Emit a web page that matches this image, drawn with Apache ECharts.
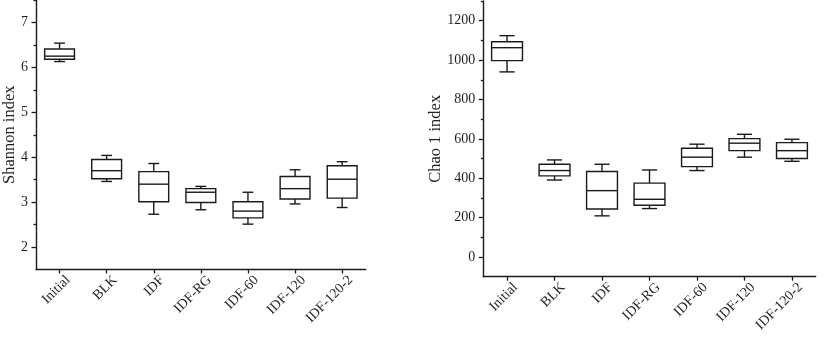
<!DOCTYPE html>
<html>
<head>
<meta charset="utf-8">
<script src="https://cdn.jsdelivr.net/npm/echarts@6/dist/echarts.min.js"></script>
<style>
html,body{margin:0;padding:0;background:#fff;}
#main{width:837px;height:358px;}
</style>
</head>
<body>
<div id="main"></div>
<script>
var categories = ['Initial', 'BLK', 'IDF', 'IDF-RG', 'IDF-60', 'IDF-120', 'IDF-120-2'];

var shannonMin = [6.13, 3.46, 2.73, 2.83, 2.51, 2.96, 2.88];
var shannonQ1  = [6.18, 3.52, 3.01, 2.99, 2.65, 3.07, 3.09];
var shannonMed = [6.25, 3.70, 3.40, 3.22, 2.80, 3.30, 3.51];
var shannonQ3  = [6.41, 3.95, 3.68, 3.30, 3.01, 3.57, 3.81];
var shannonMax = [6.54, 4.04, 3.86, 3.35, 3.22, 3.72, 3.90];

var chaoMin = [940, 391, 209, 246, 439, 507, 486];
var chaoQ1  = [997, 412, 244, 263, 459, 540, 500];
var chaoMed = [1063, 439, 337, 293, 507, 578, 540];
var chaoQ3  = [1093, 471, 434, 375, 552, 601, 581];
var chaoMax = [1124, 493, 471, 442, 573, 623, 598];

var shannonMajorTicks = [2, 3, 4, 5, 6, 7];
var shannonMinorTicks = [2.5, 3.5, 4.5, 5.5, 6.5, 7.5];
var chaoMajorTicks = [0, 200, 400, 600, 800, 1000, 1200];
var chaoMinorTicks = [100, 300, 500, 700, 900, 1100, 1300];

var FONT = "'Liberation Serif', 'Times New Roman', serif";
var INK = '#1a1a1a';
var TXT = '#1f1f1f';

function rows(mn, q1, md, q3, mx) {
  return categories.map(function (c, i) { return [i, mn[i], q1[i], md[i], q3[i], mx[i]]; });
}

function makeRender(boxRatio, capRatio) {
  return function (params, api) {
    var i = api.value(0);
    var pMin = api.coord([i, api.value(1)]);
    var pQ1 = api.coord([i, api.value(2)]);
    var pMed = api.coord([i, api.value(3)]);
    var pQ3 = api.coord([i, api.value(4)]);
    var pMax = api.coord([i, api.value(5)]);
    var band = api.size([1, 0])[0];
    var bw = band * boxRatio;
    var cw = band * capRatio;
    var cx = pMed[0];
    var st = { stroke: INK, fill: null, lineWidth: 1.4 };
    return {
      type: 'group',
      children: [
        { type: 'line', shape: { x1: cx, y1: pQ3[1], x2: cx, y2: pMax[1] }, style: st },
        { type: 'line', shape: { x1: cx, y1: pQ1[1], x2: cx, y2: pMin[1] }, style: st },
        { type: 'line', shape: { x1: cx - cw / 2, y1: pMax[1], x2: cx + cw / 2, y2: pMax[1] }, style: st },
        { type: 'line', shape: { x1: cx - cw / 2, y1: pMin[1], x2: cx + cw / 2, y2: pMin[1] }, style: st },
        { type: 'rect', shape: { x: cx - bw / 2, y: pQ3[1], width: bw, height: pQ1[1] - pQ3[1] }, style: { stroke: INK, fill: '#fff', lineWidth: 1.4 } },
        { type: 'line', shape: { x1: cx - bw / 2, y1: pMed[1], x2: cx + bw / 2, y2: pMed[1] }, style: st }
      ]
    };
  };
}

function xAxisDef(gi) {
  return {
    type: 'category', gridIndex: gi, data: categories, boundaryGap: true, position: 'bottom',
    axisLine: { show: true, onZero: false, lineStyle: { color: INK, width: 1.4 } },
    axisTick: { show: true, alignWithLabel: true, length: 4, inside: false, lineStyle: { color: INK, width: 1.3 } },
    axisLabel: {
      rotate: 45, margin: 0, fontSize: 14, fontFamily: FONT, color: TXT,
      verticalAlign: 'top', padding: [5, 0, 0, 0], interval: 0
    },
    splitLine: { show: false }
  };
}

function yMajor(gi, min, max, ticks, name, gap) {
  return {
    type: 'value', gridIndex: gi, min: min, max: max, position: 'left',
    name: name, nameLocation: 'middle', nameGap: gap, nameMoveOverlap: false,
    nameTextStyle: { fontSize: 16.5, fontFamily: FONT, color: TXT },
    axisLine: { show: true, onZero: false, lineStyle: { color: INK, width: 1.4 } },
    axisTick: { show: true, length: 4.5, customValues: ticks, lineStyle: { color: INK, width: 1.3 } },
    axisLabel: {
      show: true, customValues: ticks, margin: 8, fontSize: 14, fontFamily: FONT, color: TXT,
      formatter: function (v) { return String(v); }
    },
    splitLine: { show: false }
  };
}

function yMinor(gi, min, max, ticks) {
  return {
    type: 'value', gridIndex: gi, min: min, max: max, position: 'left', offset: 0,
    axisLine: { show: false, onZero: false },
    axisTick: { show: true, length: 2.5, customValues: ticks, lineStyle: { color: INK, width: 1.3 } },
    axisLabel: { show: false },
    splitLine: { show: false }
  };
}

var option = {
  animation: false,
  backgroundColor: '#fff',
  grid: [
    { left: 33, top: -6, width: 332.7, height: 275.5, containLabel: false },
    { left: 483.3, top: 1, width: 332.4, height: 275.7, containLabel: false }
  ],
  xAxis: [xAxisDef(0), xAxisDef(1)],
  yAxis: [
    yMajor(0, 1.5, 7.5, shannonMajorTicks, 'Shannon index', 18),
    yMinor(0, 1.5, 7.5, shannonMinorTicks),
    yMajor(1, -100, 1300, chaoMajorTicks, 'Chao 1 index', 39),
    yMinor(1, -100, 1300, chaoMinorTicks)
  ],
  series: [
    {
      type: 'custom', xAxisIndex: 0, yAxisIndex: 0,
      renderItem: makeRender(0.633, 0.23),
      encode: { x: 0, y: [1, 2, 3, 4, 5] },
      data: rows(shannonMin, shannonQ1, shannonMed, shannonQ3, shannonMax)
    },
    {
      type: 'custom', xAxisIndex: 1, yAxisIndex: 2,
      renderItem: makeRender(0.65, 0.32),
      encode: { x: 0, y: [1, 2, 3, 4, 5] },
      data: rows(chaoMin, chaoQ1, chaoMed, chaoQ3, chaoMax)
    }
  ]
};

var chart = echarts.init(document.getElementById('main'), null, { renderer: 'canvas' });
chart.setOption(option);
</script>
</body>
</html>
